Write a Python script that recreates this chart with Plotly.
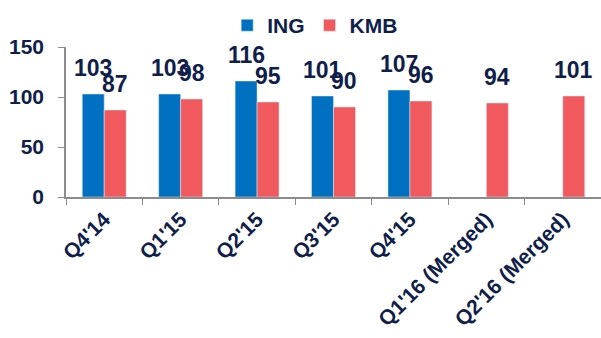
import plotly.graph_objects as go

categories = ["Q4'14", "Q1'15", "Q2'15", "Q3'15", "Q4'15", "Q1'16 (Merged)", "Q2'16 (Merged)"]
ing_values = [103, 103, 116, 101, 107, None, None]
kmb_values = [87, 98, 95, 90, 96, 94, 101]
y_ticks = [0, 50, 100, 150]

BLUE = "#0070C0"
RED = "#F05A5F"
NAVY = "#0F1E4A"
AXIS = "#8C8C8C"
BARGAP = 0.425

fig = go.Figure()
fig.add_trace(go.Bar(name="ING", x=categories, y=ing_values, marker_color=BLUE))
fig.add_trace(go.Bar(name="KMB", x=categories, y=kmb_values, marker_color=RED))

half = (1 - BARGAP) / 4
label_font = dict(family="Liberation Sans, Arial", size=23, color=NAVY, weight="bold")
annotations = []
for i, (a, b) in enumerate(zip(ing_values, kmb_values)):
    for val, dx in ((a, -half), (b, half)):
        if val is None:
            continue
        annotations.append(dict(x=i + dx, y=val, xref="x", yref="y", text=str(val),
                                showarrow=False, yanchor="bottom", yshift=11,
                                font=label_font))

tick_font = dict(family="Liberation Sans, Arial", size=21, color=NAVY, weight="bold")
fig.update_layout(
    width=601, height=338,
    margin=dict(l=66, r=0, t=47, b=141, autoexpand=False),
    barmode="group", bargap=BARGAP, bargroupgap=0,
    plot_bgcolor="white", paper_bgcolor="white",
    showlegend=True,
    legend=dict(orientation="h", xref="container", yref="container", x=0.378, y=0.985,
                xanchor="left", yanchor="top", font=tick_font, bgcolor="rgba(0,0,0,0)"),
    annotations=annotations,
    xaxis=dict(type="category", range=[-0.5, 6.5], tickson="boundaries", ticks="outside",
               ticklen=6, tickcolor=AXIS, showline=True, linecolor=AXIS, linewidth=1.5,
               tickangle=-45, tickfont=dict(family="Liberation Sans, Arial", size=21, color=NAVY, weight="bold"),
               showgrid=False),
    yaxis=dict(range=[0, 150], tickvals=y_ticks, ticks="outside", ticklen=6, tickcolor=AXIS,
               showline=True, linecolor=AXIS, linewidth=1.5, showgrid=False, zeroline=False,
               tickfont=tick_font, ticklabelstandoff=10),
)

fig.write_html("out.html")
